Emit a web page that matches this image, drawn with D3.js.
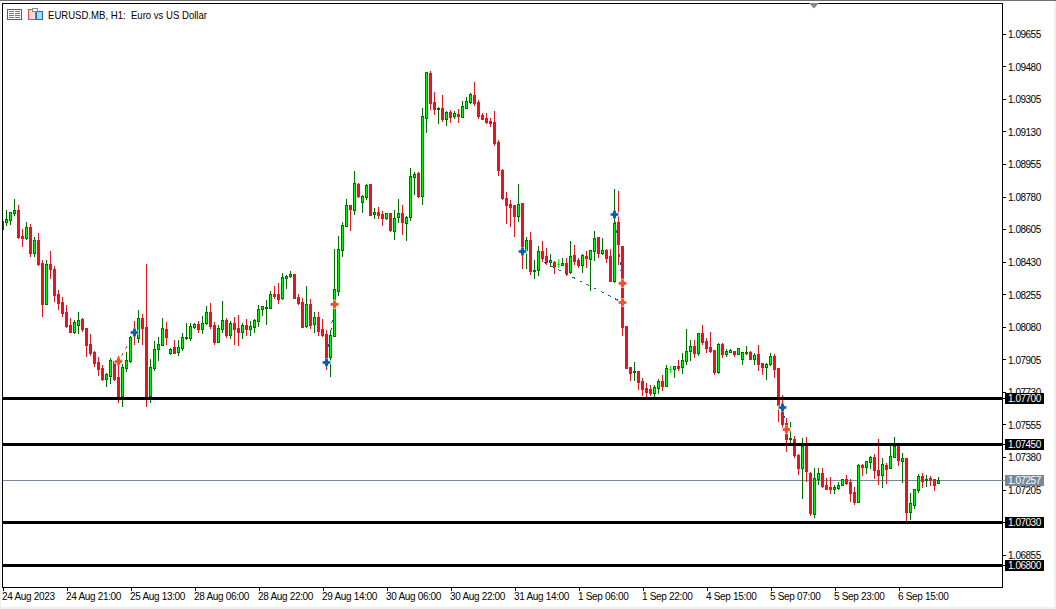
<!DOCTYPE html>
<html><head><meta charset="utf-8">
<style>html,body{margin:0;padding:0;background:#fff;overflow:hidden}svg{display:block}text{font-family:"Liberation Sans",sans-serif;font-size:10px;fill:#000}</style>
<script src="https://cdn.jsdelivr.net/npm/d3@7/dist/d3.min.js"></script></head><body><svg id="c" width="1056" height="609"></svg>
<script>
// Prices are in points (1e-5)
const opens=[108605,108643,108654,108691,108708,108568,108557,108617,108477,108546,108423,108203,108418,108391,108257,108213,108159,108090,108052,108090,108122,108074,107988,107945,107891,107859,107800,107816,107896,107811,107709,107859,107896,108052,108020,108127,108079,107709,107859,107961,107982,108068,107939,107972,107945,107966,108020,108020,108079,108095,108068,108100,108159,108090,107998,108068,108117,108036,108100,108074,108052,108090,108068,108079,108111,108176,108181,108181,108257,108257,108235,108343,108353,108364,108241,108213,108084,108203,108095,108133,108068,108041,107918,108031,108273,108493,108622,108734,108708,108848,108750,108778,108848,108686,108697,108686,108665,108691,108595,108670,108691,108638,108670,108886,108907,108783,109202,109444,109288,109250,109256,109197,109234,109213,109224,109208,109256,109288,109326,109288,109218,109202,109186,109181,109073,108923,108772,108740,108734,108675,108745,108493,108546,108380,108385,108487,108460,108428,108428,108418,108412,108423,108375,108466,108439,108412,108460,108444,108487,108563,108477,108493,108460,108327,108643,108514,108084,107864,107837,107843,107789,107752,107746,107725,107752,107789,107762,107853,107853,107870,107864,107896,107950,107977,107939,108047,108004,107972,107955,107837,107988,107934,107945,107950,107934,107907,107939,107945,107907,107934,107886,107864,107880,107923,107859,107665,107563,107477,107477,107391,107322,107440,107295,107074,107262,107295,107230,107220,107209,107214,107230,107262,107246,107193,107139,107338,107327,107354,107381,107311,107284,107338,107322,107381,107440,107359,107375,107085,107123,107203,107279,107257,107268,107262,107241];
const highs=[108659,108708,108697,108767,108734,108605,108643,108633,108563,108584,108439,108439,108487,108407,108278,108241,108197,108127,108117,108159,108127,108074,108041,107950,107918,107875,107832,107912,107896,107923,107880,107945,108031,108111,108170,108149,108418,107907,108004,108025,108127,108106,107966,108009,108009,108047,108100,108100,108100,108111,108138,108192,108208,108106,108090,108219,108127,108111,108133,108143,108100,108122,108111,108122,108197,108192,108224,108273,108300,108316,108369,108359,108380,108364,108257,108235,108300,108230,108159,108159,108122,108063,108063,108498,108568,108643,108767,108734,108917,108853,108789,108848,108848,108718,108723,108702,108691,108691,108708,108767,108734,108675,108933,108912,108912,109256,109449,109454,109342,109261,109326,109240,109245,109240,109250,109293,109315,109336,109395,109299,109229,109229,109202,109240,109084,108928,108805,108761,108734,108848,108745,108563,108589,108439,108514,108541,108503,108471,108434,108444,108450,108450,108541,108519,108450,108471,108487,108493,108595,108563,108557,108498,108498,108821,108810,108514,108084,107864,107891,107843,107805,107778,107768,107768,107800,107821,107875,107870,107870,107902,107939,108068,108009,108009,108047,108090,108020,108052,107955,107993,107993,107961,107961,107950,107966,107945,107977,107950,107939,107982,107886,107886,107939,107934,107859,107714,107590,107568,107493,107397,107482,107488,107300,107322,107322,107322,107268,107274,107230,107246,107262,107284,107262,107220,107343,107343,107359,107386,107397,107477,107375,107348,107440,107488,107456,107402,107375,107187,107209,107289,107295,107284,107279,107262,107274];
const lows=[108595,108627,108633,108681,108557,108514,108552,108460,108460,108412,108138,108203,108343,108219,108176,108138,108079,108052,108047,108047,108058,107923,107929,107870,107821,107794,107762,107778,107794,107676,107655,107843,107891,107988,107998,107988,107655,107676,107848,107902,107982,107988,107934,107939,107929,107955,108014,108009,108074,108052,108047,108095,108074,107988,107998,108052,108025,108020,107988,107982,108020,108036,108036,108052,108084,108143,108095,108181,108235,108208,108230,108289,108348,108235,108203,108079,108079,108074,108052,108036,108031,107853,107816,108031,108251,108460,108622,108600,108686,108778,108697,108767,108681,108665,108665,108627,108659,108595,108552,108643,108579,108546,108654,108794,108778,108740,109126,109250,109224,109175,109186,109164,109181,109202,109181,109208,109256,109283,109272,109202,109197,109175,109159,109057,108896,108767,108638,108622,108568,108649,108396,108396,108364,108343,108359,108434,108418,108407,108369,108402,108412,108359,108369,108418,108402,108375,108402,108278,108439,108455,108471,108428,108327,108321,108418,108036,107859,107794,107794,107746,107714,107709,107714,107703,107725,107741,107762,107837,107811,107848,107832,107880,107902,107918,107929,107988,107945,107945,107827,107832,107918,107923,107945,107923,107934,107880,107934,107907,107880,107848,107827,107800,107875,107811,107574,107542,107413,107456,107381,107289,107160,107252,107069,107058,107236,107220,107209,107187,107187,107209,107230,107236,107144,107128,107139,107284,107295,107322,107268,107236,107220,107241,107322,107381,107338,107246,107037,107047,107107,107193,107220,107225,107230,107203,107241];
const closes=[108649,108659,108697,108708,108563,108557,108617,108477,108546,108418,108203,108418,108391,108251,108208,108154,108084,108052,108106,108117,108068,107982,107939,107886,107853,107800,107827,107902,107800,107709,107864,107902,108025,108031,108127,108074,107709,107864,107961,107988,108074,108025,107961,107939,107972,108025,108025,108084,108095,108068,108100,108159,108084,107998,108074,108117,108036,108100,108068,108052,108090,108068,108084,108117,108176,108192,108187,108257,108246,108230,108348,108353,108364,108235,108208,108079,108203,108090,108133,108058,108036,107912,108036,108284,108498,108627,108734,108713,108853,108783,108783,108842,108681,108697,108681,108665,108691,108600,108665,108691,108643,108670,108891,108902,108783,109213,109449,109283,109250,109256,109197,109234,109208,109229,109213,109267,109293,109331,109283,109213,109197,109181,109175,109068,108923,108772,108734,108723,108675,108740,108493,108546,108380,108385,108487,108450,108428,108439,108407,108418,108423,108369,108460,108434,108412,108466,108450,108493,108557,108477,108493,108450,108327,108638,108525,108079,107859,107832,107843,107784,107746,107730,107725,107757,107789,107762,107859,107853,107870,107859,107902,107950,107977,107939,108047,107998,107966,107950,107837,107988,107934,107950,107955,107934,107966,107945,107945,107907,107929,107880,107864,107880,107923,107853,107660,107558,107477,107482,107391,107322,107440,107306,107080,107268,107295,107225,107209,107209,107220,107230,107262,107241,107187,107139,107338,107327,107359,107381,107311,107284,107343,107316,107386,107440,107364,107375,107085,107133,107209,107279,107252,107262,107257,107230,107257];
const dojis=[139,167];
const yTicks=[109655,109480,109305,109130,108955,108780,108605,108430,108255,108080,107905,107730,107555,107380,107205,107030,106855];
const levels=[107700,107450,107030,106800];
const lastPrice=107257;
const timeLabels=["24 Aug 2023","24 Aug 21:00","25 Aug 13:00","28 Aug 06:00","28 Aug 22:00","29 Aug 14:00","30 Aug 06:00","30 Aug 22:00","31 Aug 14:00","1 Sep 06:00","1 Sep 22:00","4 Sep 15:00","5 Sep 07:00","5 Sep 23:00","6 Sep 15:00"];
const labelStep=16;
const tradeBuyIndex=[33,81,130,153,195];
const tradeBuyPrice=[108052,107891,108487,108686,107649];
const tradeSellIndex=[29,83,155,155,196];
const tradeSellPrice=[107896,108203,108213,108316,107531];
const tradeLineColor=["#f0502a","#0b5fb0","#0b5fb0","#0b5fb0","#0b5fb0"];
const title="EURUSD.MB, H1:  Euro vs US Dollar";

const L=2,T=3,R=1002,B=587;
const svg=d3.select("#c");
const x=d3.scaleLinear().domain([0,234]).range([2,938]);
const y=d3.scaleLinear().domain([107700,106800]).range([397.5,565]);
const ry=v=>Math.round(y(v));
const pf=v=>(v/1e5).toFixed(5);
const RED="#e6141e",DG="#006e00",LIME="#00ff00",SLATE="#778899";

svg.append("rect").attr("x",0).attr("y",0).attr("width",1056).attr("height",1).attr("fill","#6e6e6e");
svg.append("rect").attr("x",0).attr("y",607).attr("width",1056).attr("height",2).attr("fill","#f0f0f0");
svg.append("rect").attr("x",1054).attr("y",1).attr("width",2).attr("height",608).attr("fill","#f0f0f0");
svg.append("rect").attr("x",0).attr("y",1).attr("width",1).attr("height",608).attr("fill","#f0f0f0");
svg.append("defs").append("clipPath").attr("id","plot").append("rect").attr("x",L+1).attr("y",T+1).attr("width",R-L-1).attr("height",B-T-1);

// axes
const yAxis=svg.append("g").attr("transform",`translate(${R},0)`).call(d3.axisRight(y).tickValues(yTicks).tickSize(4).tickPadding(2).tickFormat(pf));
const xTickVals=timeLabels.map((_,i)=>i*labelStep);
const xAxis=svg.append("g").attr("transform",`translate(0,${B})`).call(d3.axisBottom(x).tickValues(xTickVals).tickSize(4).tickPadding(2).tickFormat((d,i)=>timeLabels[i]));
[yAxis,xAxis].forEach(g=>{g.select(".domain").remove();g.selectAll("line").attr("stroke","#000").attr("shape-rendering","crispEdges");g.selectAll("text").attr("font-family",null).attr("font-size",null)});
xAxis.selectAll("text").attr("text-anchor","start").attr("dy",null).attr("y",13).attr("x",-0.5).style("letter-spacing","-0.32px");
xAxis.selectAll(".tick line").attr("transform","translate(0.5,0)");
yAxis.selectAll("text").attr("y",0.6).style("letter-spacing","-0.48px");

const plot=svg.append("g").attr("clip-path","url(#plot)");
// last price line
plot.append("rect").attr("x",L).attr("width",R-L).attr("y",ry(lastPrice)).attr("height",1).attr("fill",SLATE);

// trade connector lines
plot.selectAll("line.t").data(tradeBuyIndex).join("line").attr("class","t")
 .attr("x1",d=>x(d)+.5).attr("y1",(d,i)=>y(tradeBuyPrice[i])+.5)
 .attr("x2",(d,i)=>x(tradeSellIndex[i])+.5).attr("y2",(d,i)=>y(tradeSellPrice[i])+.5)
 .attr("stroke",(d,i)=>tradeLineColor[i]).attr("stroke-width",1).attr("stroke-dasharray","3 5").attr("shape-rendering","crispEdges");

// candles
const idx=d3.range(opens.length);
const wick=plot.append("g").attr("shape-rendering","crispEdges");
const col=i=>dojis.includes(i)?LIME:(closes[i]>opens[i]?DG:(closes[i]<opens[i]?RED:DG));
wick.selectAll("rect").data(idx).join("rect").attr("x",i=>Math.round(x(i))).attr("width",1)
 .attr("y",i=>ry(highs[i])).attr("height",i=>ry(lows[i])-ry(highs[i])+1).attr("fill",col);
const body=plot.append("g").attr("shape-rendering","crispEdges");
body.selectAll("rect").data(idx).join("rect").attr("x",i=>Math.round(x(i))-1).attr("width",3)
 .attr("y",i=>ry(Math.max(opens[i],closes[i])))
 .attr("height",i=>dojis.includes(i)?1:ry(Math.min(opens[i],closes[i]))-ry(Math.max(opens[i],closes[i]))+1).attr("fill",col);
const ups=idx.filter(i=>closes[i]>opens[i]&&!dojis.includes(i)&&ry(opens[i])-ry(closes[i])>=2);
plot.append("g").attr("shape-rendering","crispEdges").selectAll("rect").data(ups).join("rect").attr("x",i=>Math.round(x(i))).attr("width",1)
 .attr("y",i=>ry(closes[i])+1).attr("height",i=>ry(opens[i])-ry(closes[i])-1).attr("fill",LIME);

// trade arrows
const cross=d3.symbol().type(d3.symbolCross).size(34)(),diamond=d3.symbol().type(d3.symbolDiamond).size(26)();
function marks(idxs,prices,c){
 const g=plot.selectAll(null).data(idxs).join("g").attr("transform",(d,i)=>`translate(${x(d)+.5},${y(prices[i])+.5})`);
 g.append("path").attr("d",cross).attr("fill",c).attr("stroke","#fff").attr("stroke-width",1.2).attr("paint-order","stroke");
 g.append("path").attr("d",diamond).attr("fill",c);
}
marks(tradeBuyIndex,tradeBuyPrice,"#0b5fb0");
marks(tradeSellIndex,tradeSellPrice,"#f0502a");

// horizontal levels
plot.append("g").attr("shape-rendering","crispEdges").selectAll("rect").data(levels).join("rect")
 .attr("x",L).attr("width",R-L).attr("y",d=>ry(d)-1).attr("height",3).attr("fill","#000");

// frame
svg.append("rect").attr("x",L+.5).attr("y",T+.5).attr("width",R-L).attr("height",B-T).attr("fill","none").attr("stroke","#000").attr("shape-rendering","crispEdges");

// price tags
const tag=(v,bg)=>{const g=svg.append("g").attr("transform",`translate(1005,${ry(v)-5})`);
 g.append("rect").attr("width",39).attr("height",11).attr("fill",bg);
 g.append("text").attr("x",3).attr("y",9).style("fill","#fff").style("letter-spacing","-0.48px").text(pf(v));
 svg.append("rect").attr("x",R).attr("y",ry(v)).attr("width",3).attr("height",1).attr("fill",bg);};
levels.forEach(v=>tag(v,"#000"));tag(lastPrice,SLATE);

// top triangle
svg.append("path").attr("d",d3.line()([[809,3],[819,3],[814,8.5]])).attr("fill",SLATE);

// title and icons
svg.append("text").attr("x",48).attr("y",18.5).style("white-space","pre").style("font-size","10.5px").attr("textLength",159).attr("lengthAdjust","spacingAndGlyphs").text(title);
const icon=svg.append("g").attr("shape-rendering","crispEdges");
icon.append("rect").attr("x",7.5).attr("y",9.5).attr("width",14).attr("height",10).attr("fill","#fff").attr("stroke","#1d6fb5");
icon.append("rect").attr("x",8).attr("y",10).attr("width",6).attr("height",9).attr("fill","#fff").attr("stroke","#e04b45").attr("stroke-width",0);
[11,13,15,17].forEach(yy=>{icon.append("rect").attr("x",9).attr("y",yy).attr("width",5).attr("height",1).attr("fill","#e04b45");icon.append("rect").attr("x",15).attr("y",yy).attr("width",5).attr("height",1).attr("fill","#e04b45");});
icon.append("rect").attr("x",28.5).attr("y",9.5).attr("width",7).attr("height",10).attr("fill","#fbd9d4").attr("stroke","#e04b45");
icon.append("rect").attr("x",36.5).attr("y",11.5).attr("width",6).attr("height",8).attr("fill","#a9d6f5").attr("stroke","#1d6fb5");
icon.append("rect").attr("x",32.5).attr("y",8.5).attr("width",5).attr("height",3).attr("fill","#fff").attr("stroke","#888");
</script></body></html>
